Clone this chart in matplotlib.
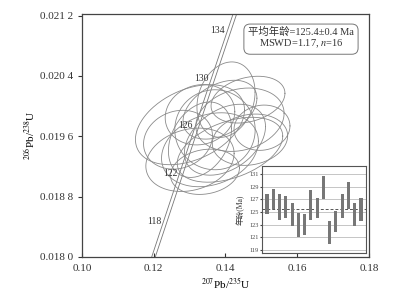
import numpy as np
import matplotlib
matplotlib.use("Agg")
import matplotlib.pyplot as plt

plt.rcParams['font.family'] = ['Liberation Serif', 'Noto Sans CJK SC', 'DejaVu Sans']
plt.rcParams['mathtext.fontset'] = 'stix'

# ---- data: error ellipses (207Pb/235U, 206Pb/238U, 2s extents, rho) ----
pb207_u235 = [0.14014, 0.13010, 0.13010, 0.13567, 0.14403, 0.15017, 0.13707, 0.13289,
              0.14682, 0.14125, 0.13428, 0.13846, 0.12676, 0.14627, 0.13985, 0.13289]
pb206_u238 = [0.020085, 0.019753, 0.019288, 0.019421, 0.019819, 0.019713, 0.019686, 0.019885,
              0.019554, 0.019421, 0.019129, 0.019952, 0.019554, 0.020085, 0.019554, 0.019554]
err_x = [0.0081, 0.0152, 0.0123, 0.0135, 0.0123, 0.0078, 0.0112, 0.0097,
         0.0105, 0.0147, 0.0096, 0.0103, 0.0096, 0.0103, 0.0113, 0.0088]
err_y = [0.00050, 0.00053, 0.00042, 0.00049, 0.00042, 0.00030, 0.00053, 0.00040,
         0.00034, 0.00043, 0.00030, 0.00039, 0.00039, 0.00031, 0.00047, 0.00050]
rho = [0.20, 0.37, 0.20, 0.23, 0.20, 0.08, 0.0, 0.10,
       0.15, 0.42, 0.16, 0.39, 0.14, 0.27, 0.37, 0.30]

# concordia age marks (Ma)
concordia_ages = [118, 122, 126, 130, 134]

# ---- inset: 206Pb/238U ages with errors ----
ages = [126.3, 127.1, 125.75, 125.85, 124.6, 122.9, 123.05, 126.15,
        125.6, 128.9, 121.7, 123.55, 125.95, 127.6, 124.6, 125.35]
age_err = [1.6, 1.6, 2.05, 1.75, 1.85, 1.9, 1.65, 2.35,
           1.6, 1.85, 1.8, 1.65, 1.85, 2.2, 1.8, 1.85]
mean_age = 125.4

l238 = 1.55125e-10
l235 = 9.8485e-10

fig = plt.figure(figsize=(4.13, 2.94), dpi=100)
ax = fig.add_axes([0.1985, 0.1259, 0.6950, 0.8265])

# concordia (double line)
t = np.linspace(100e6, 140e6, 400)
cx = np.exp(l235 * t) - 1
cy = np.exp(l238 * t) - 1
for d in (-0.0005, 0.0005):
    ax.plot(cx + d, cy, color='#777777', lw=0.6)
for a in concordia_ages:
    px = np.exp(l235 * a * 1e6) - 1
    py = np.exp(l238 * a * 1e6) - 1
    ax.annotate(str(a), (px, py), xytext=(-3, 0), textcoords='offset points',
                ha='right', va='center', fontsize=7, color='#333333')

# error ellipses
th = np.linspace(0, 2 * np.pi, 200)
for x0, y0, sx, sy, r in zip(pb207_u235, pb206_u238, err_x, err_y, rho):
    cov = np.array([[sx * sx, r * sx * sy], [r * sx * sy, sy * sy]])
    L = np.linalg.cholesky(cov)
    pts = L @ np.vstack([np.cos(th), np.sin(th)])
    ax.plot(x0 + pts[0], y0 + pts[1], color='#8a8a8a', lw=0.6)

ax.set_xlim(0.10, 0.18)
ax.set_ylim(0.0180, 0.02122)
ax.set_xticks([0.10, 0.12, 0.14, 0.16, 0.18])
ax.set_xticklabels(['0.10', '0.12', '0.14', '0.16', '0.18'])
ax.set_yticks([0.0180, 0.0188, 0.0196, 0.0204, 0.0212])
ax.set_yticklabels(['0.018 0', '0.018 8', '0.019 6', '0.020 4', '0.021 2'])
ax.tick_params(axis='x', direction='in', length=3, labelsize=8, colors='#333333', pad=5)
ax.tick_params(axis='y', direction='out', length=3, labelsize=8, colors='#333333')
for s in ax.spines.values():
    s.set_color('#444444')
    s.set_linewidth(0.9)
ax.set_xlabel(r'$^{207}$Pb/$^{235}$U', fontsize=8, labelpad=2)
ax.set_ylabel(r'$^{206}$Pb/$^{238}$U', fontsize=8, labelpad=2)

ax.text(0.763, 0.90, '平均年龄=125.4±0.4 Ma\nMSWD=1.17, $n$=16', transform=ax.transAxes,
        ha='center', va='center', fontsize=7.5, color='#333333', linespacing=1.1,
        bbox=dict(boxstyle='round,pad=0.4,rounding_size=0.6', fc='white', ec='#777777', lw=0.7))

# inset
ins = fig.add_axes([0.6344, 0.1395, 0.2518, 0.2959])
idx = np.arange(1, len(ages) + 1)
for k in [119, 121, 123, 125, 127, 129, 131]:
    ins.axhline(k, color='#bbbbbb', lw=0.6, zorder=0)
ins.axhline(mean_age, color='#555555', lw=0.7, ls=(0, (3, 2)), zorder=1)
ins.bar(idx, 2 * np.array(age_err), bottom=np.array(ages) - np.array(age_err),
        width=0.5, color='#777777', zorder=2)
ins.set_xlim(0.2, 16.8)
ins.set_ylim(118.5, 132.3)
ins.set_xticks([])
ins.set_yticks([119, 121, 123, 125, 127, 129, 131])
ins.tick_params(axis='y', labelsize=4.5, length=1.5, pad=1, colors='#444444')
ins.set_ylabel('年龄(Ma)', fontsize=5.5, labelpad=3, color='#333333')
for s in ins.spines.values():
    s.set_color('#555555')
    s.set_linewidth(0.8)

fig.savefig('out.png', dpi=100)
